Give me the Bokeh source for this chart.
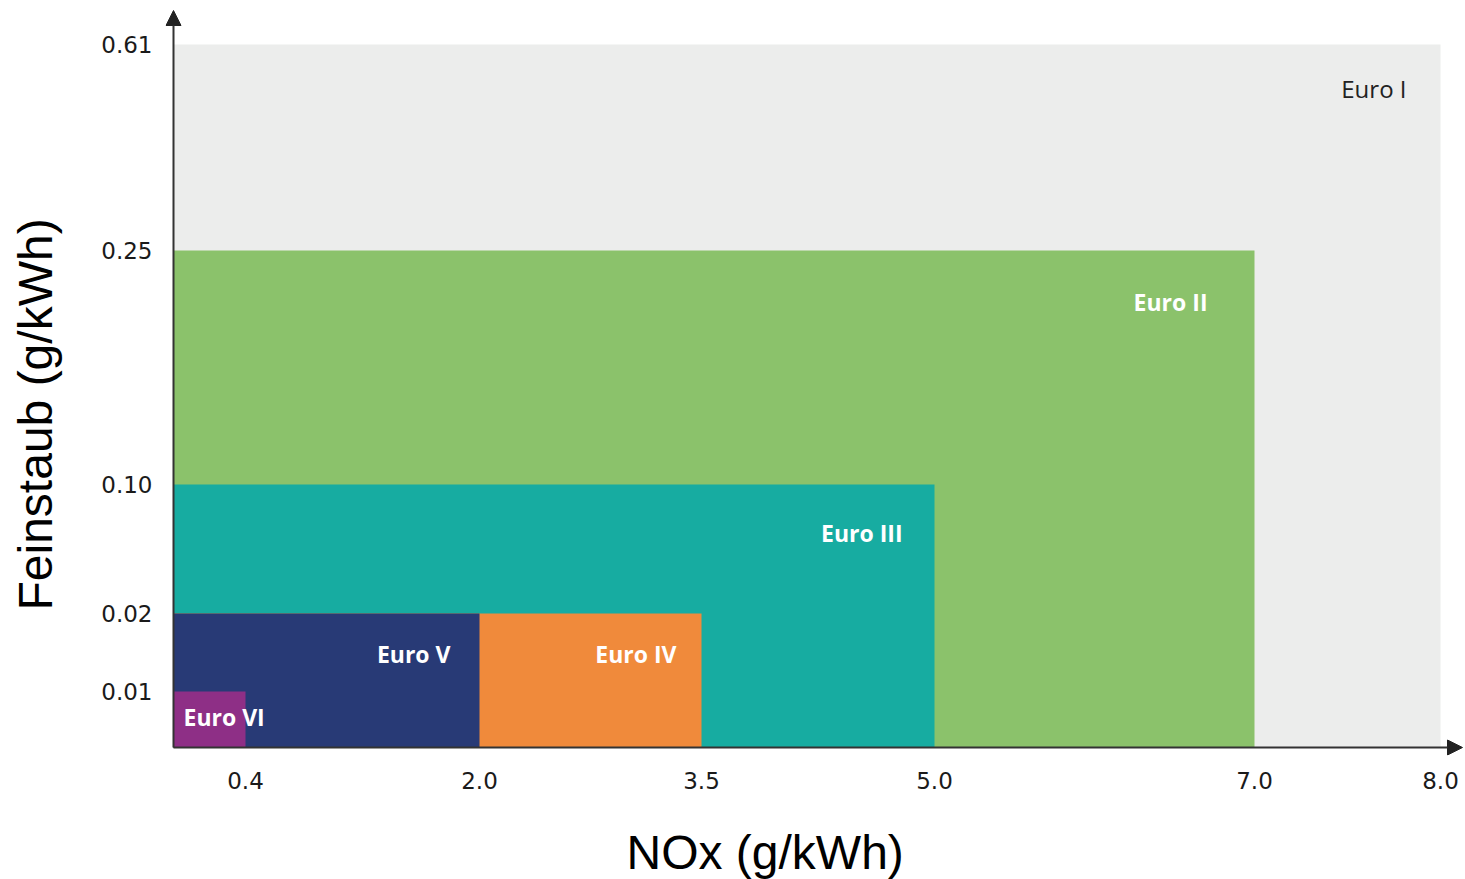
import numpy as np
from bokeh.plotting import figure
from bokeh.models import (ColumnDataSource, Range1d, FixedTicker, Arrow, NormalHead,
                          Title, CDSView, IndexFilter)
from bokeh.core.properties import value
from bokeh.embed import file_html
from bokeh.resources import INLINE

# ---------------- data ----------------
stages = ["Euro I", "Euro II", "Euro III", "Euro IV", "Euro V", "Euro VI"]
nox = [8.0, 7.0, 5.0, 3.5, 2.0, 0.4]          # NOx limit, g/kWh
pm = [0.61, 0.25, 0.10, 0.02, 0.02, 0.01]     # particulate (Feinstaub) limit, g/kWh
x_ticks = [0.4, 2.0, 3.5, 5.0, 7.0, 8.0]
y_ticks = [0.01, 0.02, 0.10, 0.25, 0.61]
x_tick_labels = ["0.4", "2.0", "3.5", "5.0", "7.0", "8.0"]
y_tick_labels = ["0.01", "0.02", "0.10", "0.25", "0.61"]

# ---------------- custom (schematic, piecewise-linear) scales ----------------
X_STOPS = [0.0, 0.4, 2.0, 3.5, 5.0, 7.0, 8.0]
X_AXIS = [0, 72, 306, 528, 761, 1081, 1267]
Y_STOPS = [0.0, 0.01, 0.02, 0.10, 0.25, 0.61]
Y_AXIS = [0, 56, 134, 263, 497, 703]
X_END, Y_END = 1289, 737      # arrow tips
PAD = 8                       # room for arrow heads inside the frame


def sx(v):
    return np.interp(v, X_STOPS, X_AXIS)


def sy(v):
    return np.interp(v, Y_STOPS, Y_AXIS)


colors = ["#ECEDEC", "#8BC26B", "#17ACA1", "#F08A3B", "#283A76", "#8E2F86"]

src = ColumnDataSource(dict(
    stage=stages,
    left=[0.0] * len(stages),
    right=sx(nox),
    bottom=[0.0] * len(stages),
    top=sy(pm),
    color=colors,
))

p = figure(width=1464, height=879, output_backend="svg", toolbar_location=None,
           x_range=Range1d(-PAD, X_END + 1), y_range=Range1d(-PAD, Y_END + 8),
           min_border_left=165, min_border_right=1, min_border_top=2, min_border_bottom=124)
p.outline_line_color = None
p.xgrid.visible = False
p.ygrid.visible = False
p.background_fill_color = "white"
p.border_fill_color = "white"

p.quad(left="left", right="right", bottom="bottom", top="top", fill_color="color",
       line_color=None, source=src)

# stage labels (anchored to top-right corner of each box; Euro VI to its left edge)
lab_x_off = [-34, -47, -32, -25, -29, 10]
lab_y_off = [44, 51, 48, 40, 40, 25]
lab_align = ["right", "right", "right", "right", "right", "left"]
lab_anchor_x = [float(sx(n)) if a == "right" else 0.0 for n, a in zip(nox, lab_align)]
lab_src = ColumnDataSource(dict(
    x=lab_anchor_x, y=sy(pm), text=stages,
    xo=lab_x_off, yo=lab_y_off, align=lab_align,
))
p.text(x="x", y="y", text="text", x_offset="xo", y_offset="yo", text_align="align",
       text_baseline="middle", text_font=value("Open Sans"), text_font_size="24px",
       text_color="#222222", source=lab_src, view=CDSView(filter=IndexFilter([0])))
p.text(x="x", y="y", text="text", x_offset="xo", y_offset="yo", text_align="align",
       text_baseline="middle", text_font=value("Open Sans"), text_font_size="23px",
       text_font_style="bold", text_color="white", source=lab_src,
       view=CDSView(filter=IndexFilter([1, 2, 3, 4, 5])))

# axes (lines drawn as arrows below; Bokeh axes carry the tick labels)
xt = [float(v) for v in sx(x_ticks)]
yt = [float(v) for v in sy(y_ticks)]
p.xaxis.ticker = FixedTicker(ticks=xt)
p.yaxis.ticker = FixedTicker(ticks=yt)
p.xaxis.major_label_overrides = {t: l for t, l in zip(xt, x_tick_labels)}
p.yaxis.major_label_overrides = {t: l for t, l in zip(yt, y_tick_labels)}
for ax in (p.xaxis, p.yaxis):
    ax.major_tick_line_color = None
    ax.minor_tick_line_color = None
    ax.major_tick_out = 0
    ax.major_tick_in = 0
    ax.axis_line_color = None
    ax.major_label_text_font = "DejaVu Sans"
    ax.major_label_text_font_size = "23px"
    ax.major_label_text_color = "#1a1a1a"
p.xaxis.major_label_standoff = 16
p.yaxis.major_label_standoff = 13

p.add_layout(Arrow(end=NormalHead(size=15, fill_color="#222222", line_color="#222222"),
                   x_start=0, y_start=0, x_end=0, y_end=Y_END,
                   line_color="#333333", line_width=2))
p.add_layout(Arrow(end=NormalHead(size=15, fill_color="#222222", line_color="#222222"),
                   x_start=0, y_start=0, x_end=X_END, y_end=0,
                   line_color="#333333", line_width=2))

# spacing between tick labels and axis titles
p.add_layout(Title(text=" ", text_font_size="1px", standoff=29), "below")
p.add_layout(Title(text=" ", text_font_size="1px", standoff=33), "left")

# axis titles
p.add_layout(Title(text="NOx (g/kWh)", align="left", offset=461, standoff=0,
                   text_font="Liberation Sans", text_font_size="48px",
                   text_font_style="normal", text_color="black"), "below")
p.add_layout(Title(text="Feinstaub (g/kWh)", align="left", offset=145, standoff=2,
                   text_font="Liberation Sans", text_font_size="48px",
                   text_font_style="normal", text_color="black"), "left")

open("out.html", "w").write(file_html(p, INLINE))
